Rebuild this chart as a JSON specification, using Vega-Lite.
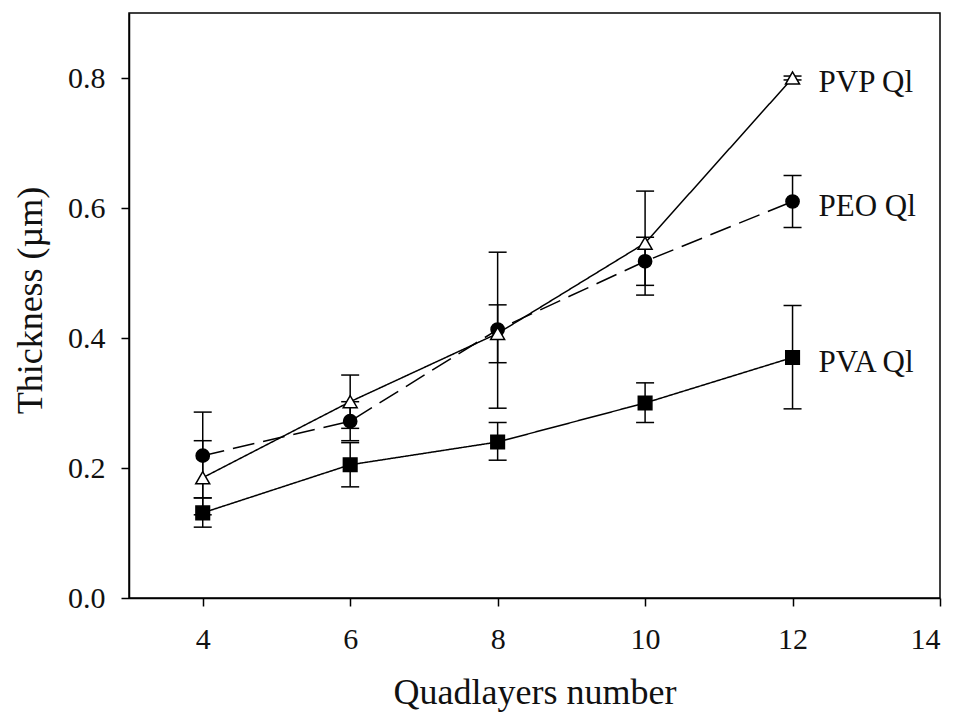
{
  "$schema": "https://vega.github.io/schema/vega-lite/v6.json",
  "width": 811,
  "height": 585,
  "autosize": "none",
  "padding": {"left": 129, "top": 13, "right": 23, "bottom": 121},
  "background": "white",
  "config": {
    "font": "Liberation Serif",
    "view": {"stroke": "black", "strokeWidth": 1.5},
    "axis": {
      "grid": false,
      "domainColor": "black",
      "domainWidth": 1.5,
      "tickColor": "black",
      "tickWidth": 1.5,
      "tickSize": 8,
      "labelFont": "Liberation Serif",
      "labelFontSize": 30,
      "labelColor": "#111",
      "titleFont": "Liberation Serif",
      "titleFontSize": 36,
      "titleFontWeight": "normal",
      "titleColor": "#111"
    }
  },
  "data": {
    "values": [
      {"series": "PVA", "label": "PVA Ql", "x": 4, "y": 0.131, "lo": 0.109, "hi": 0.154},
      {"series": "PVA", "label": "PVA Ql", "x": 6, "y": 0.205, "lo": 0.171, "hi": 0.239},
      {"series": "PVA", "label": "PVA Ql", "x": 8, "y": 0.240, "lo": 0.212, "hi": 0.270},
      {"series": "PVA", "label": "PVA Ql", "x": 10, "y": 0.300, "lo": 0.270, "hi": 0.331},
      {"series": "PVA", "label": "PVA Ql", "x": 12, "y": 0.370, "lo": 0.291, "hi": 0.450},
      {"series": "PEO", "label": "PEO Ql", "x": 4, "y": 0.219, "lo": 0.154, "hi": 0.286},
      {"series": "PEO", "label": "PEO Ql", "x": 6, "y": 0.272, "lo": 0.242, "hi": 0.302},
      {"series": "PEO", "label": "PEO Ql", "x": 8, "y": 0.413, "lo": 0.292, "hi": 0.532},
      {"series": "PEO", "label": "PEO Ql", "x": 10, "y": 0.518, "lo": 0.481, "hi": 0.555},
      {"series": "PEO", "label": "PEO Ql", "x": 12, "y": 0.610, "lo": 0.570, "hi": 0.650},
      {"series": "PVP", "label": "PVP Ql", "x": 4, "y": 0.185, "lo": 0.128, "hi": 0.242},
      {"series": "PVP", "label": "PVP Ql", "x": 6, "y": 0.302, "lo": 0.261, "hi": 0.343},
      {"series": "PVP", "label": "PVP Ql", "x": 8, "y": 0.407, "lo": 0.362, "hi": 0.451},
      {"series": "PVP", "label": "PVP Ql", "x": 10, "y": 0.546, "lo": 0.466, "hi": 0.626},
      {"series": "PVP", "label": "PVP Ql", "x": 12, "y": 0.800, "lo": 0.797, "hi": 0.803}
    ]
  },
  "encoding": {
    "x": {
      "field": "x",
      "type": "quantitative",
      "scale": {"domain": [3, 14], "nice": false, "zero": false},
      "axis": {
        "values": [4, 6, 8, 10, 12, 14],
        "title": "Quadlayers number",
        "labelPadding": 18,
        "titleY": 105,
        "titleBaseline": "alphabetic"
      }
    }
  },
  "layer": [
    {
      "mark": {"type": "rule", "color": "black", "strokeWidth": 1.5},
      "encoding": {
        "y": {"field": "lo", "type": "quantitative", "scale": {"domain": [0, 0.9], "nice": false}},
        "y2": {"field": "hi"}
      }
    },
    {
      "mark": {"type": "point", "shape": "stroke", "size": 324, "stroke": "black", "strokeWidth": 1.5, "filled": false, "opacity": 1},
      "encoding": {"y": {"field": "lo", "type": "quantitative"}}
    },
    {
      "mark": {"type": "point", "shape": "stroke", "size": 324, "stroke": "black", "strokeWidth": 1.5, "filled": false, "opacity": 1},
      "encoding": {"y": {"field": "hi", "type": "quantitative"}}
    },
    {
      "mark": {"type": "line", "color": "black", "strokeWidth": 1.5},
      "encoding": {
        "y": {"field": "y", "type": "quantitative"},
        "detail": {"field": "series"},
        "strokeDash": {
          "field": "series",
          "type": "nominal",
          "scale": {"domain": ["PEO", "PVA", "PVP"], "range": [[22, 9], [1, 0], [1, 0]]},
          "legend": null
        }
      }
    },
    {
      "mark": {"type": "point", "stroke": "black", "strokeWidth": 1.5, "opacity": 1, "filled": true},
      "encoding": {
        "y": {
          "field": "y",
          "type": "quantitative",
          "scale": {"domain": [0, 0.9], "nice": false},
          "axis": {
            "values": [0, 0.2, 0.4, 0.6, 0.8],
            "format": ".1f",
            "title": "Thickness (µm)",
            "labelPadding": 16,
            "titleAngle": -90,
            "titleX": -88,
            "titleY": 287,
            "titleBaseline": "alphabetic",
            "titleAlign": "center"
          }
        },
        "shape": {
          "field": "series",
          "type": "nominal",
          "scale": {"domain": ["PEO", "PVA", "PVP"], "range": ["circle", "square", "triangle-up"]},
          "legend": null
        },
        "fill": {
          "field": "series",
          "type": "nominal",
          "scale": {"domain": ["PEO", "PVA", "PVP"], "range": ["black", "black", "white"]},
          "legend": null
        },
        "size": {
          "field": "series",
          "type": "nominal",
          "scale": {"domain": ["PEO", "PVA", "PVP"], "range": [175, 195, 150]},
          "legend": null
        }
      }
    },
    {
      "transform": [{"filter": "datum.x == 12"}],
      "mark": {"type": "text", "align": "left", "baseline": "middle", "dx": 26, "dy": 5, "fontSize": 31, "font": "Liberation Serif", "color": "#111"},
      "encoding": {
        "y": {"field": "y", "type": "quantitative"},
        "text": {"field": "label"}
      }
    }
  ]
}
